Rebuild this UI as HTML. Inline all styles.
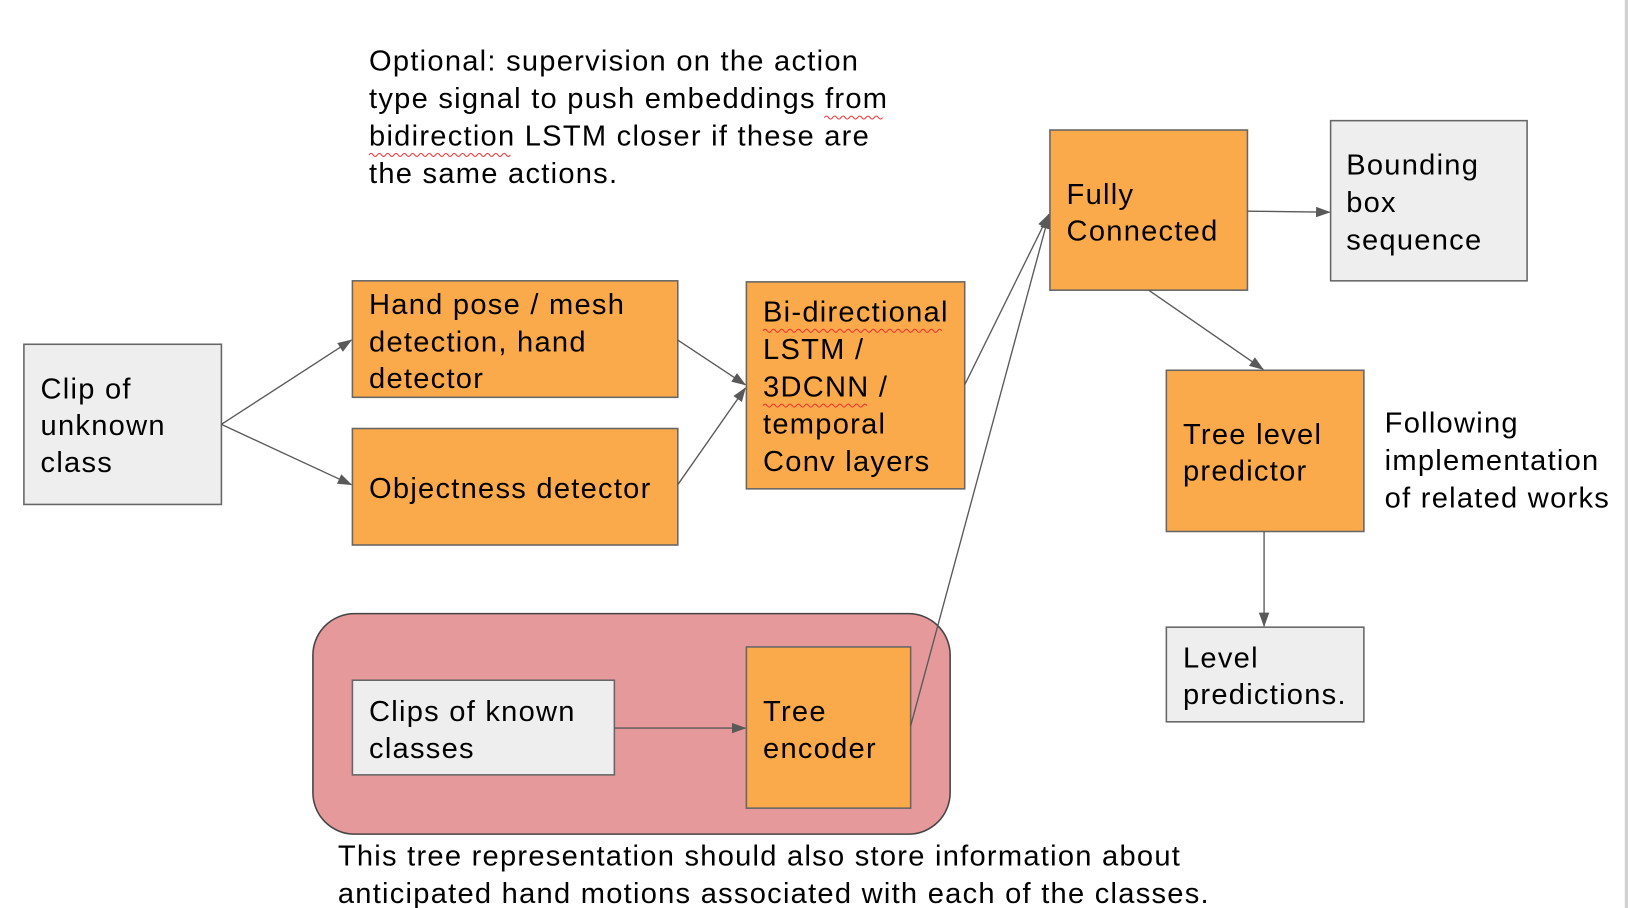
<!DOCTYPE html>
<html><head><meta charset="utf-8"><style>html,body{margin:0;padding:0;background:#fff;}svg{display:block}text{font-family:"Liberation Sans",Arial,sans-serif;font-size:28px;letter-spacing:1.2px}</style></head>
<body>
<svg width="1630" height="908" viewBox="0 0 1568 873" preserveAspectRatio="none" xmlns="http://www.w3.org/2000/svg">
<defs><marker id="a" markerWidth="14" markerHeight="10" refX="13" refY="5" orient="auto" markerUnits="userSpaceOnUse"><path d="M0,0 L14,5 L0,10 z" fill="#595959"/></marker></defs>
<rect x="1563" y="0" width="3" height="873" fill="#d0d0d0"/>
<g fill="#000">
<text x="355" y="68">Optional: supervision on the action</text>
<text x="355" y="104">type signal to push embeddings from</text>
<text x="355" y="140">bidirection LSTM closer if these are</text>
<text x="355" y="176">the same actions.</text>
</g>
<path d="M793,113 q2,-3 4,0 t4,0 t4,0 t4,0 t4,0 t4,0 t4,0 t4,0 t4,0 t4,0 t4,0 t4,0 t4,0 t4,0" fill="none" stroke="#e33" stroke-width="1"/>
<path d="M355,149 q2,-3 4,0 t4,0 t4,0 t4,0 t4,0 t4,0 t4,0 t4,0 t4,0 t4,0 t4,0 t4,0 t4,0 t4,0 t4,0 t4,0 t4,0 t4,0 t4,0 t4,0 t4,0 t4,0 t4,0 t4,0 t4,0 t4,0 t4,0 t4,0 t4,0 t4,0 t4,0 t4,0 t4,0 t4,0" fill="none" stroke="#e33" stroke-width="1"/>
<rect x="301" y="590" width="613" height="212" rx="40" fill="#e6999a" stroke="#444" stroke-width="1.5"/>
<g stroke="#666" stroke-width="1.5">
<rect x="23" y="331" width="190" height="154" fill="#eeeeee"/>
<rect x="339" y="270" width="313" height="112" fill="#fbaa4b"/>
<rect x="339" y="412" width="313" height="112" fill="#fbaa4b"/>
<rect x="718" y="271" width="210" height="199" fill="#fbaa4b"/>
<rect x="1010" y="125" width="190" height="154" fill="#fbaa4b"/>
<rect x="1280" y="116" width="189" height="154" fill="#eeeeee"/>
<rect x="1122" y="356" width="190" height="155" fill="#fbaa4b"/>
<rect x="1122" y="603" width="190" height="91" fill="#eeeeee"/>
<rect x="339" y="654" width="252" height="91" fill="#eeeeee"/>
<rect x="718" y="622" width="158" height="155" fill="#fbaa4b"/>
</g>
<g stroke="#595959" stroke-width="1.3" fill="none" marker-end="url(#a)">
<line x1="213" y1="408" x2="338" y2="327"/>
<line x1="213" y1="408" x2="338" y2="466"/>
<line x1="652" y1="327" x2="717" y2="370"/>
<line x1="652" y1="466" x2="717" y2="373"/>
<line x1="928" y1="370" x2="1009" y2="206"/>
<line x1="876" y1="698" x2="1009" y2="207"/>
<line x1="1200" y1="203" x2="1279" y2="204"/>
<line x1="1105" y1="279" x2="1215" y2="355"/>
<line x1="1216" y1="511" x2="1216" y2="602"/>
<line x1="591" y1="700" x2="717" y2="700"/>
</g>
<g fill="#000">
<text x="39" y="383">Clip of</text><text x="39" y="418">unknown</text><text x="39" y="454">class</text>
<text x="355" y="302">Hand pose / mesh</text><text x="355" y="338">detection, hand</text><text x="355" y="373">detector</text>
<text x="355" y="479">Objectness detector</text>
<text x="734" y="309">Bi-directional</text><text x="734" y="345">LSTM /</text><text x="734" y="381">3DCNN /</text><text x="734" y="417">temporal</text><text x="734" y="453">Conv layers</text>
<text x="1026" y="196">Fully</text><text x="1026" y="231">Connected</text>
<text x="1295" y="168">Bounding</text><text x="1295" y="204">box</text><text x="1295" y="240">sequence</text>
<text x="1138" y="427">Tree level</text><text x="1138" y="462">predictor</text>
<text x="1332" y="416">Following</text><text x="1332" y="452">implementation</text><text x="1332" y="488">of related works</text>
<text x="1138" y="642">Level</text><text x="1138" y="677">predictions.</text>
<text x="355" y="693">Clips of known</text><text x="355" y="729">classes</text>
<text x="734" y="693">Tree</text><text x="734" y="729">encoder</text>
<text x="325" y="832">This tree representation should also store information about</text>
<text x="325" y="868">anticipated hand motions associated with each of the classes.</text>
</g>
<path d="M734,318 q2,-3 4,0 t4,0 t4,0 t4,0 t4,0 t4,0 t4,0 t4,0 t4,0 t4,0 t4,0 t4,0 t4,0 t4,0 t4,0 t4,0 t4,0 t4,0 t4,0 t4,0 t4,0 t4,0 t4,0 t4,0 t4,0 t4,0 t4,0 t4,0 t4,0 t4,0 t4,0 t4,0 t4,0 t4,0 t4,0 t4,0 t4,0 t4,0 t4,0 t4,0 t4,0 t4,0 t4,0" fill="none" stroke="#e33" stroke-width="1"/>
<path d="M734,390 q2,-3 4,0 t4,0 t4,0 t4,0 t4,0 t4,0 t4,0 t4,0 t4,0 t4,0 t4,0 t4,0 t4,0 t4,0 t4,0 t4,0 t4,0 t4,0 t4,0 t4,0 t4,0 t4,0 t4,0 t4,0 t4,0" fill="none" stroke="#e33" stroke-width="1"/>
</svg>
</body></html>
